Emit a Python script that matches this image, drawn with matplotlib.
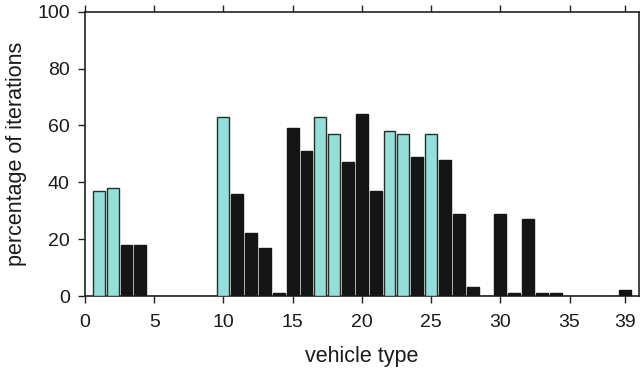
import numpy as np
import matplotlib
matplotlib.use("Agg")
import matplotlib.pyplot as plt

CYAN = "#94e0d8"
BLACK = "#151515"
EDGE = "#2b2b2b"

vehicle_types = list(range(1, 40))
percentages = [
    37, 38, 18, 18, 0, 0, 0, 0, 0, 63,
    36, 22, 17, 1, 59, 51, 63, 57, 47, 64,
    37, 58, 57, 49, 57, 48, 29, 3, 0, 29,
    1, 27, 1, 1, 0, 0, 0, 0, 2,
]
# vehicle types drawn in the highlight colour
highlighted = [1, 2, 10, 17, 18, 22, 23, 25]

xticks = [0, 5, 10, 15, 20, 25, 30, 35, 39]
yticks = [0, 20, 40, 60, 80, 100]


def main():
    plt.rcParams["font.family"] = ["Liberation Sans", "DejaVu Sans"]
    plt.rcParams["font.size"] = 14

    fig = plt.figure(figsize=(6.4, 3.72), dpi=100)
    ax = fig.add_axes([0.1328, 0.2043, 0.8652, 0.7642])

    colors = [CYAN if v in highlighted else BLACK for v in vehicle_types]
    edges = [EDGE if v in highlighted else BLACK for v in vehicle_types]
    ax.bar(vehicle_types, percentages, width=0.86, color=colors,
           edgecolor=edges, linewidth=1.0, zorder=3)

    ax.set_xlim(0, 40)
    ax.set_ylim(0, 100)
    ax.set_xticks(xticks)
    ax.set_yticks(yticks)

    ax.tick_params(direction="out", length=5, width=1, colors="#222222",
                   top=True, right=True, labelcolor="#1a1a1a")
    ax.tick_params(axis="x", pad=8)
    ax.tick_params(axis="y", pad=6)
    for side in ax.spines.values():
        side.set_linewidth(1.2)
        side.set_color("#222222")

    ax.set_xlabel("vehicle type", fontsize=15.5, labelpad=11, color="#1a1a1a")
    ax.set_ylabel("percentage of iterations", fontsize=15.5, labelpad=7,
                  color="#1a1a1a")

    fig.savefig("out.png", dpi=100)


if __name__ == "__main__":
    main()
